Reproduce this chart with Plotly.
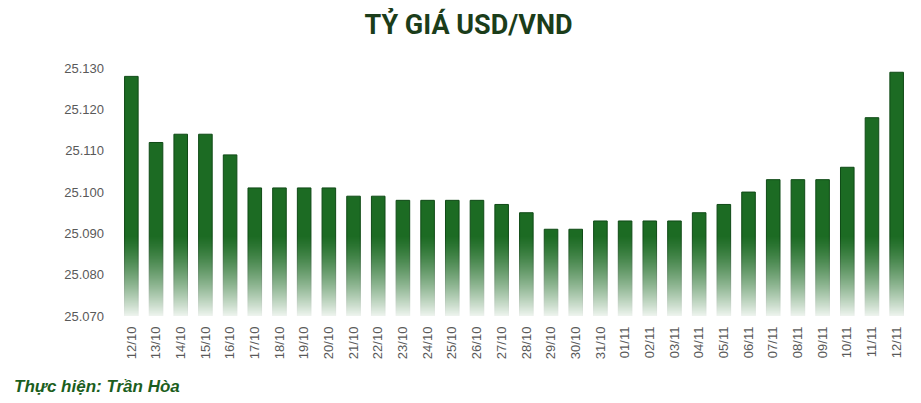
import base64, struct, zlib
import plotly.graph_objects as go

dates = ["12/10", "13/10", "14/10", "15/10", "16/10", "17/10", "18/10", "19/10",
         "20/10", "21/10", "22/10", "23/10", "24/10", "25/10", "26/10", "27/10",
         "28/10", "29/10", "30/10", "31/10", "01/11", "02/11", "03/11", "04/11",
         "05/11", "06/11", "07/11", "08/11", "09/11", "10/11", "11/11", "12/11"]
rates = [25128, 25112, 25114, 25114, 25109, 25101, 25101, 25101,
         25101, 25099, 25099, 25098, 25098, 25098, 25098, 25097,
         25095, 25091, 25091, 25093, 25093, 25093, 25093, 25095,
         25097, 25100, 25103, 25103, 25103, 25106, 25118, 25129]
y_ticks = [25070, 25080, 25090, 25100, 25110, 25120, 25130]


def gradient_png(h=64):
    # white fading overlay: transparent at top, mostly opaque white at bottom
    raw = b""
    for i in range(h):
        t = i / (h - 1)
        a = int(235 * (t ** 1.3))
        raw += b"\x00" + bytes([255, 255, 255, a]) * 2
    def chunk(tag, data):
        c = struct.pack(">I", len(data)) + tag + data
        return c + struct.pack(">I", zlib.crc32(tag + data) & 0xffffffff)
    png = b"\x89PNG\r\n\x1a\n"
    png += chunk(b"IHDR", struct.pack(">IIBBBBB", 2, h, 8, 6, 0, 0, 0))
    png += chunk(b"IDAT", zlib.compress(raw))
    png += chunk(b"IEND", b"")
    return "data:image/png;base64," + base64.b64encode(png).decode()


fig = go.Figure()
fig.add_trace(go.Bar(
    x=dates, y=rates,
    marker=dict(color="#1c6b23", line=dict(color="#0f4a16", width=1)),
    hoverinfo="x+y",
))

fig.update_layout(
    width=921, height=403,
    margin=dict(l=111, r=20, t=56, b=95),
    paper_bgcolor="white", plot_bgcolor="white",
    separators=",.",
    bargap=0.45,
    showlegend=False,
    font=dict(family="Liberation Sans, Arial, sans-serif", color="#595959", size=13),
    title=dict(text="<b>TỶ GIÁ USD/VND</b>", x=0.5, xanchor="center", y=0.958, yanchor="middle",
               font=dict(family="Roboto, sans-serif", size=27, color="#1b3d1a")),
    xaxis=dict(type="category", tickangle=-90, showgrid=False, showline=False,
               ticks="", ticklabelstandoff=7, tickfont=dict(size=13, color="#595959")),
    yaxis=dict(range=[25070, 25131], tickvals=y_ticks, tickformat=",d",
               showgrid=False, showline=False, zeroline=False, ticks="",
               ticklabelstandoff=14, tickfont=dict(size=13, color="#595959")),
    images=[dict(source=gradient_png(), xref="paper", yref="y", x=0, y=25090,
                 sizex=1, sizey=20, sizing="stretch", xanchor="left", yanchor="top",
                 layer="above", opacity=1)],
    annotations=[dict(text="<b><i>Thực hiện: Trần Hòa</i></b>", xref="paper", yref="paper",
                      x=-107/790, y=0, xanchor="left", yanchor="top", showarrow=False,
                      yshift=-59,
                      font=dict(family="Liberation Sans, Arial, sans-serif", size=17, color="#1b5e20"))],
)

fig.write_html("out.html")
